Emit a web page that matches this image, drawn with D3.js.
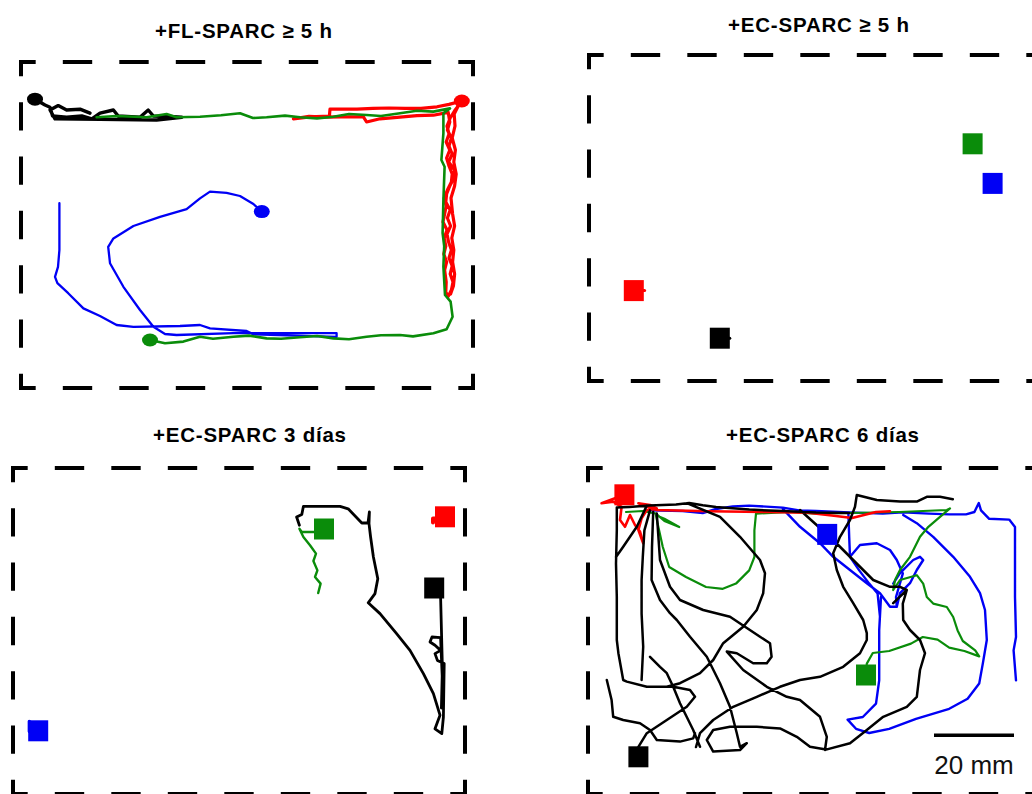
<!DOCTYPE html>
<html><head><meta charset="utf-8">
<script src="https://cdn.jsdelivr.net/npm/d3@7"></script>
<style>html,body{margin:0;padding:0;background:#fff;} svg{display:block;}</style>
</head><body>
<svg id="chart" width="1032" height="794"></svg>
<script>
// ---------- DATA (arena coordinates in mm, origin = top-left of arena) ----------
const titles = ["+FL-SPARC \u2265 5 h", "+EC-SPARC \u2265 5 h", "+EC-SPARC 3 d\u00edas", "+EC-SPARC 6 d\u00edas"];
const arenaWidthMM = 113, arenaHeightMM = 81.5;
const scaleBarLengthMM = 20;
const scaleBarLabel = "20 mm";

// Panel 1: +FL-SPARC >= 5 h (start marks = circles)
const p1Black = [[3.5,9.3],[6.0,10.75],[7.25,11.3],[7.9,13.5],[11.4,13.8],[15.2,13.5],[17.7,14.2],[19.75,12.8],[23.1,12],[24.3,13.5],[29.75,13.8],[31.8,12],[33.1,13.5],[38.1,13.7],[40.2,13.8],[33.9,14.5],[19.75,14.3],[8.5,14.2],[7.25,12],[9.3,10.9],[11.4,12],[14.75,11.8],[17.25,12.8]];
const p1Red = [[110.2,9.75],[107,10.6],[104,11.2],[100,11.6],[96,11.6],[92,11.5],[88,11.6],[84,11.8],[80,11.8],[77.25,11.8],[77.1,13.5],[72.25,13.7],[68.1,14.2],[72,13.6],[76,13.8],[80,13.7],[85.6,13.7],[86.4,15],[89.75,14.2],[94.75,13.8],[99,13.4],[103.1,13.3],[106.8,12.6],
  [107.2,15],[106.6,17],[107.6,19],[107,21],[107.8,23],[106.9,25],[108.4,27],[108.2,29],[107.2,31],[106.4,33],[106.2,35],[107.3,37],[106.6,39],[107.4,41],[106.5,43],[106.9,45],[107.6,47],[107,49],[107.8,51],[107.3,53],[108,55],[107.6,57],[106.8,58.6],[106.2,57.5],
  [106.3,55],[105.9,52],[106.4,50],[105.7,48],[106.2,46],[105.8,44],[106.5,42],[105.5,40],[105.9,38],[106.3,36],[105.8,34],[106.6,32],[107.6,30],[107.8,28],[107,26],[106.4,24],[107.2,22],[106.3,20],[107,18],[106.5,16],[107.3,14],[108.4,12.2],[109.3,11],
  [108.3,13],[108.5,16],[107.8,19],[108.6,22],[108.2,25],[108.8,28],[108.4,31],[107.5,34],[107.9,38],[108.4,41],[107.7,44],[108.2,47],[107.9,50],[108.4,53],[108.1,56],[107.4,58]];
const p1Green = [[32.25,69.5],[36,70.3],[40.6,69.9],[44.75,68.7],[48,69.2],[53.1,68.7],[57,68.4],[61.4,69.1],[65,69.2],[69.75,68.8],[74,68.5],[78.1,69.1],[82,69.3],[86.4,68.7],[90,68.3],[94.75,68.25],[98,68.6],[103.1,67.8],[106.4,66.8],[107.9,63.7],[107.4,59.9],[106,58.25],[105.6,51.2],[105.8,46],[105.4,42.8],[105.6,34.5],[105.9,26.2],[105.1,24.5],[105.6,17.8],[105.6,12.8],[107.25,11.6],[103.1,12.4],[99,12.2],[94.75,12.8],[90,13.5],[86.4,13.25],[82,13],[78.1,13.7],[74,14.1],[69.75,13.8],[66,13.4],[61.4,13.8],[58,14],[54.75,12.8],[50,13.3],[44.75,13.7],[38.9,13.8],[36.4,13],[31.4,13.8],[23.9,13.5],[18.9,13.8]];
const p1Blue = [[60.2,37.4],[58.1,35.5],[54.75,33.5],[51.4,32.7],[47.25,32.4],[44.75,34.1],[41.4,36.8],[34.75,38.7],[28.1,41],[23.1,44.1],[21.8,46.2],[22.25,50.3],[25.6,56.2],[29.75,62],[33.1,66.2],[36,68],[38.9,68.25],[53.1,67.8],[78.9,67.8],[78.9,68.7],[58.1,68.1],[56.4,67.25],[47.25,66.6],[44.75,65.75],[39.75,66],[28.1,66.2],[23.9,65.75],[19.75,63.5],[15.6,61.6],[11.8,57.8],[9.1,55.3],[8.5,53.7],[9.25,51.2],[9.6,47],[9.6,35.3]];
const p1Marks = {black:[3.5,9.3], red:[110.2,9.75], green:[32.25,69.5], blue:[60.2,37.4]};

// Panel 2: +EC-SPARC >= 5 h (end marks = squares)
const p2Black = [[32.7,70.8],[35.2,70.8]];
const p2Red = [[11.2,58.9],[13.9,58.9]];
const p2Green = [[95.9,22.2]];
const p2Blue = [[100.9,32.1]];
const p2Marks = {black:[32.7,70.8], red:[11.2,58.9], green:[95.9,22.2], blue:[100.9,32.1]};

// Panel 3: +EC-SPARC 3 dias
const p3Black = [[71.6,14.3],[70.9,12.25],[72.2,11.6],[72.6,9.6],[81.75,9.6],[83.8,10.2],[87.2,13.75],[88.75,13.75],[89.1,11],[89,13.9],[89.4,17.25],[90.1,22.25],[91.2,27.7],[90.5,31.4],[88.8,33.7],[91.75,36.4],[95.9,41.4],[99.25,45.6],[102.6,51.4],[105.1,56.4],[106.75,61.8],[105.5,65.2],[107.2,66.4],[107.6,62.25],[107.8,48.9],[106.1,48.1],[105.5,46.4],[106.9,45.6],[105.5,44.3],[104.25,43.5],[104.75,42.25],[106.9,42.4],[107.3,52],[107.1,60],[107.4,52],[106.9,32.25],[105.3,30]];
const p3Red = [[108,12.6],[105,12.6],[105,13.6]];
const p3Green = [[77.75,15.25],[75.5,16],[72.2,16],[71.6,15.2],[72.6,17.25],[74.25,19.3],[75.75,21.4],[75.1,23.25],[76.1,25.6],[75.5,27.25],[76.9,28.9],[76.3,31.25]];
const p3Blue = [[6.3,64.9],[4.1,63.4],[4.1,65.9]];
const p3Marks = {black:[105.3,30], red:[108,12.2], green:[77.75,15.25], blue:[6.3,65.7]};

// Panel 4: +EC-SPARC 6 dias (null = break in the track)
const p4Black = [
  [65.3,11.25],[57,11.1],[48.7,10.75],[40.3,10.4],[32,9.75],[28.7,9.3],[25.3,8.75],[22,9.1],[15.3,9.4],[10.3,9.75],[7.2,9.9],[7.2,15.6],[7,23.9],[7.2,32.25],[7.2,43],[7.6,46.3],[8.8,53],[9.7,53.4],[14.7,54.7],[21.3,54.7],[25.5,55.5],[26.75,57.2],[24.7,59.7],[19.7,63],[14.7,66.3],[12.6,69.7],[12.6,72.2], null,
  [14.7,9.4],[12.2,14.7],[8.8,19.7],[7,22.25], null,
  [15.5,10.6],[14.1,15.6],[13.7,22.25],[13.4,28],[13.4,36.4],[13.8,44.7],[13.4,53], null,
  [16.3,11],[16,19.75],[15.9,28],[18,33],[20.5,36.3],[22.2,38],[25.5,42.2],[29.7,47.2],[33,53.8],[35.5,59.7],[37.2,66.3],[38,69.7],[39.7,68.8],[38,70.5],[31.3,70.9],[29.7,68],[31.3,65.5],[35.5,64.7],[42.2,64.7],[48,65.1],[52.2,67.2],[55.5,69.7],[59.5,70.4],[65.5,68.8],[69.7,65.5],[73.8,62.2],[79.7,59.7],[82.2,57.2],[83,50.5],[84.25,46.3],[83,43],[80.5,40.5],[78.8,38],[78.7,33.9],[79.7,30.5],[76.3,33.8],[79.7,30.5],[78,29.7],[75.5,29.7],[71.3,28],[66.3,23],[61.3,18],[53,10.5], null,
  [17.2,11.4],[18,23],[20.5,29.7],[23,33],[28.8,35.5],[35.5,37.2],[43,42.2],[45.5,43.8],[45.9,47.2],[44.7,48.8],[41.3,48.8],[37.2,46.3],[34.7,45.9],[38.8,50.5],[44.7,54.7],[49.7,57.2],[53,58],[58,62.2],[59.7,67.2],[59.25,70.5], null,
  [24.7,8.8],[33,12.2],[38,17.2],[43,23],[44.25,26.3],[43.8,31.3],[42.2,35.5],[38.8,39.7],[33.8,43.8],[31.3,48],[28,51.3],[23,53.8],[19.7,54.7], null,
  [91.2,7.8],[88,7.2],[84.7,7.2],[82.2,8.4],[78,8.4],[72.2,8],[67.2,6.75],[66.75,9.7],[65.5,13],[63,17.2],[61.3,21.3],[62.2,25.5],[63.8,29.7],[66.3,33.8],[68.8,38],[69.7,41.3],[69.7,43],[68,46.3],[63.8,49.7],[58,52.2],[53,53],[48,54.7],[42.2,57.2],[36.3,59.7],[31.3,63],[28,66.3],[27,69.75], null,
  [15.5,47.2],[18,49.7],[19.7,51.3],[21.3,54.7],[23,58.8],[26.3,65.5],[28,69.7], null,
  [4.7,53],[5.9,58],[6.3,62.2],[8.8,63],[13,63.8],[15.5,65.5],[17.2,68],[23,68.4],[26.3,67.6],[26.75,66.3]
];
const p4Red = [[9.1,6.7],[3.4,8.8],[6.3,8.4],[8.4,9.7],[8,13],[9.25,14.7],[10.5,11.75],[11.75,14.25],[13,15.9],[13.8,18.8],[12.6,15.5],[13.4,12.6],[14.7,10.5],[17.2,10.1],[15.5,9.25],[12.6,8.8],[17.2,10.5],[30,10.8],[45,11],[55,11.2],[62,12],[66,12.5],[72,11],[75.5,10.8]];
const p4Green = [[69.5,51.75],[69.7,48.9],[71.2,46.25],[75.3,45.75],[80.75,43.9],[83.7,42.25],[87.4,42.9],[90.3,44.9],[94.1,45.75],[97.8,47.1],[96.8,45.6],[93.7,43.25],[92.4,40.6],[91.3,37.25],[89.7,34.75],[86.3,33.9],[84.7,32.25],[83.8,28.9],[82.2,26.8],[78,28],[76.3,30.5],[76.75,28],[78,25.5],[80.5,22.2],[83,17.2],[85.1,14.7],[88,12.2],[90.5,10.1],[89.7,10.5],[77.8,11],[65.3,11.25],[57,11.4],[50.3,11],[42,11.4],[41.6,15.6],[41.6,22.25],[40.3,25.6],[37,28.9],[33.7,30.2],[29.5,29.75],[24.5,27.25],[20.3,24.75],[18.7,19.75],[17.4,13.9],[17,11.8],[19.1,12.7],[22.8,14.75],[19.1,13.25],[17,11.4],[13.7,10.75],[9.5,11]];
const p4Blue = [
  [15.3,10.6],[23.7,10.75],[28.7,11.25],[32,10.25],[36.2,9.6],[40.3,9.4],[48.7,9.9],[52.8,10.6],[57,10.75],[65.3,11.1],[73.7,11.4],[78.7,11.1],[85.3,11.4],[90.3,11.6],[94.5,11.6],[96.6,11],[97.7,8.75],[98.25,10.6],[100.3,12.7],[105.3,12.9],[106.75,14.75],[106.75,32.25],[107,42.25],[106.4,45.6],[107,53.1], null,
  [78.8,11.75],[82.2,13.8],[86.3,17.2],[91.3,22.2],[95.5,27.2],[98,31.3],[99.25,35.5],[99.7,43],[98.7,48.9],[97.8,53.9],[94.9,57.7],[90.3,60.2],[82,62.7],[75.3,65.2],[70.3,66.25],[67,65.2],[64.9,62.9],[68.7,62.25],[72,58.9],[72.8,53.1],[72.8,40.6],[73.25,32.25], null,
  [48.7,10.2],[53,14.7],[58,18.8],[61.3,22.2],[65.5,25.5],[69.7,28.8],[73,31.3],[75.5,34.7],[77.2,34.7],[78,31.3],[80.5,28.8],[82.2,25.5],[83.8,23],[83,22.2],[81.3,23],[78,26.3],[76.3,28.9], null,
  [65.1,11.6],[65.3,17.25],[65.5,22.2],[67.8,25.6],[70.3,28.9],[72.4,31.4],[73,37.25], null,
  [65.5,22.2],[68,19.25],[72.2,18.8],[75.5,20.5],[77.2,23],[78.7,26.4],[77,32.25],[77.2,34.7]
];
const p4Marks = {black:[12.6,72.2], red:[9.1,6.7], green:[69.5,51.75], blue:[59.8,16.6]};

// ---------- RENDERING ----------
const colors = {black:"#000000", red:"#ff0000", green:"#0a8c0a", blue:"#0000f5"};

const panels = [
  {title:titles[0], left:21,  top:62,  tx:243.5, ty:38,  tl:177, marker:"circle",
   tracks:[["black",p1Black,3.4],["red",p1Red,3.2],["blue",p1Blue,2.3],["green",p1Green,2.6]], marks:p1Marks},
  {title:titles[1], left:589, top:55,  tx:818.5, ty:32,  tl:181, marker:"square",
   tracks:[["black",p2Black,3],["red",p2Red,3],["green",p2Green,3],["blue",p2Blue,3]], marks:p2Marks},
  {title:titles[2], left:13,  top:468, tx:249.5, ty:442, tl:193, marker:"square",
   tracks:[["green",p3Green,2.4],["black",p3Black,2.8],["red",p3Red,4],["blue",p3Blue,3.5]], marks:p3Marks},
  {title:titles[3], left:588, top:468, tx:822.5, ty:442, tl:193, marker:"square", scalebar:true,
   tracks:[["blue",p4Blue,2.4],["green",p4Green,2.2],["red",p4Red,2.6],["black",p4Black,2.5]], marks:p4Marks}
];

const svg = d3.select("#chart");
const PXW = 452, PXH = 326, SW = 4;

function dashedSide(g, x1, y1, x2, y2, n) {
  const L = Math.hypot(x2 - x1, y2 - y1);
  const p = L / n, d = 0.52 * p;
  const dv = d - SW;
  g.append("line").attr("x1", x1).attr("y1", y1).attr("x2", x2).attr("y2", y2)
    .attr("stroke", "#000").attr("stroke-width", SW).attr("stroke-linecap", "square")
    .attr("stroke-dasharray", `${dv} ${p - dv}`).attr("stroke-dashoffset", dv / 2);
}

panels.forEach(P => {
  const x = d3.scaleLinear().domain([0, arenaWidthMM]).range([P.left, P.left + PXW]);
  const y = d3.scaleLinear().domain([0, arenaHeightMM]).range([P.top, P.top + PXH]);
  const g = svg.append("g");

  g.append("text").attr("x", P.tx).attr("y", P.ty).attr("text-anchor", "middle")
    .attr("font-family", "'Liberation Sans', Arial, sans-serif").attr("font-weight", "bold")
    .attr("font-size", 20.5).attr("textLength", P.tl).attr("lengthAdjust", "spacing")
    .attr("fill", "#000").text(P.title);

  const x0 = x(0), x1 = x(arenaWidthMM), y0 = y(0), y1 = y(arenaHeightMM);
  dashedSide(g, x0, y0, x1, y0, 8);
  dashedSide(g, x0, y1, x1, y1, 8);
  dashedSide(g, x0, y0, x0, y1, 6);
  dashedSide(g, x1, y0, x1, y1, 6);

  const line = d3.line().defined(d => d !== null).x(d => x(d[0])).y(d => y(d[1]));
  P.tracks.forEach(([name, pts, w]) => {
    if (pts.length < 2) return;
    g.append("path").attr("d", line(pts)).attr("fill", "none")
      .attr("stroke", colors[name]).attr("stroke-width", w)
      .attr("stroke-linejoin", "round").attr("stroke-linecap", "round");
  });

  Object.entries(P.marks).forEach(([name, pt]) => {
    if (P.marker === "circle") {
      g.append("ellipse").attr("cx", x(pt[0])).attr("cy", y(pt[1]))
        .attr("rx", 8).attr("ry", 6.5).attr("fill", colors[name]);
    } else {
      g.append("rect").attr("x", x(pt[0]) - 10).attr("y", y(pt[1]) - 10.5)
        .attr("width", 20).attr("height", 21).attr("fill", colors[name]);
    }
  });

  if (P.scalebar) {
    const bx0 = 86.5, by = 66.8;
    g.append("line").attr("x1", x(bx0)).attr("x2", x(bx0 + scaleBarLengthMM))
      .attr("y1", y(by)).attr("y2", y(by)).attr("stroke", "#000").attr("stroke-width", 3.5);
    g.append("text").attr("x", x(bx0 + scaleBarLengthMM / 2)).attr("y", y(76.4))
      .attr("text-anchor", "middle").attr("font-family", "'Liberation Sans', Arial, sans-serif")
      .attr("font-size", 26).attr("fill", "#111").text(scaleBarLabel);
  }
});
</script>
</body></html>
